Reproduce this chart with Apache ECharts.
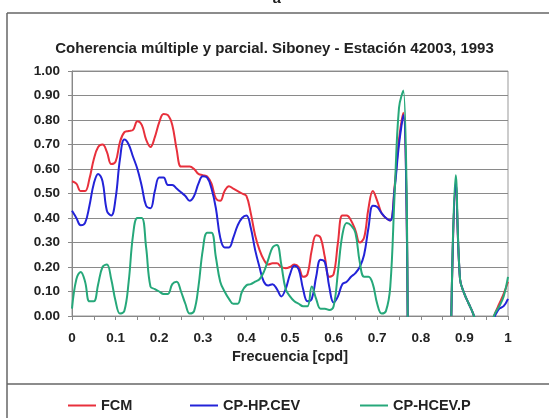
<!DOCTYPE html>
<html>
<head>
<meta charset="utf-8">
<script src="https://cdn.jsdelivr.net/npm/echarts@6/dist/echarts.min.js"></script>
<style>
html,body{margin:0;padding:0;background:#fff;}
#c{width:549px;height:418px;}
</style>
</head>
<body>
<div id="c"></div>
<script>
const freq = [0.00,0.01,0.02,0.03,0.04,0.05,0.06,0.07,0.08,0.09,
  0.10,0.11,0.12,0.13,0.14,0.15,0.16,0.17,0.18,0.19,
  0.20,0.21,0.22,0.23,0.24,0.25,0.26,0.27,0.28,0.29,
  0.30,0.31,0.32,0.33,0.34,0.35,0.36,0.37,0.38,0.39,
  0.40,0.41,0.42,0.43,0.44,0.45,0.46,0.47,0.48,0.49,
  0.50,0.51,0.52,0.53,0.54,0.55,0.56,0.57,0.58,0.59,
  0.60,0.61,0.62,0.63,0.64,0.65,0.66,0.67,0.68,0.69,
  0.70,0.71,0.72,0.73,0.74,0.75,0.76,0.77,0.78,0.79,
  0.80,0.81,0.82,0.83,0.84,0.85,0.86,0.87,0.88,0.89,
  0.90,0.91,0.92,0.93,0.94,0.95,0.96,0.97,0.98,0.99,1.00];

const xTickLabels = ['0','0.1','0.2','0.3','0.4','0.5','0.6','0.7','0.8','0.9','1'];

const fcm = [0.55,0.54,0.51,0.51,0.56,0.64,0.69,0.70,0.67,0.62,
  0.63,0.71,0.75,0.755,0.76,0.795,0.78,0.72,0.69,0.73,
  0.79,0.825,0.82,0.78,0.68,0.61,0.61,0.61,0.60,0.58,
  0.575,0.57,0.54,0.48,0.47,0.51,0.53,0.52,0.51,0.50,
  0.49,0.42,0.33,0.27,0.23,0.21,0.215,0.215,0.20,0.195,
  0.20,0.21,0.20,0.16,0.17,0.27,0.33,0.32,0.24,0.16,
  0.17,0.30,0.41,0.41,0.39,0.35,0.30,0.32,0.44,0.51,
  0.47,0.42,0.40,0.39,0.53,0.72,0.83,-0.02,null,null,
  null,null,null,null,null,null,null,0.0,0.54,0.15,
  0.09,0.05,0.01,-0.05,null,null,-0.04,0.01,0.05,0.09,0.14];

const cpHpCev = [0.43,0.40,0.37,0.38,0.45,0.54,0.58,0.55,0.43,0.41,
  0.48,0.64,0.72,0.70,0.65,0.60,0.53,0.45,0.44,0.51,
  0.565,0.565,0.535,0.535,0.52,0.505,0.49,0.47,0.49,0.54,
  0.57,0.565,0.52,0.44,0.32,0.28,0.28,0.32,0.37,0.40,
  0.41,0.36,0.27,0.20,0.14,0.125,0.13,0.11,0.08,0.11,
  0.17,0.205,0.19,0.11,0.06,0.07,0.16,0.23,0.22,0.12,
  0.055,0.08,0.13,0.14,0.16,0.175,0.20,0.25,0.36,0.45,
  0.445,0.42,0.40,0.39,0.52,0.70,0.82,-0.02,null,null,
  null,null,null,null,null,null,null,0.0,0.54,0.15,
  0.09,0.05,0.01,-0.05,null,null,-0.04,0.0,0.03,0.04,0.07];

const cpHcevP = [0.03,0.15,0.18,0.14,0.06,0.06,0.13,0.20,0.21,0.15,
  0.06,0.01,0.02,0.14,0.33,0.40,0.40,0.28,0.12,0.11,
  0.10,0.09,0.09,0.13,0.14,0.10,0.05,0.01,0.02,0.12,
  0.27,0.34,0.34,0.24,0.14,0.10,0.07,0.05,0.05,0.10,
  0.125,0.13,0.14,0.15,0.18,0.23,0.28,0.29,0.21,0.11,
  0.08,0.06,0.05,0.04,0.04,0.12,0.07,0.03,0.03,0.025,
  0.04,0.18,0.33,0.38,0.37,0.34,0.22,0.16,0.16,0.13,
  0.05,0.01,0.02,0.12,0.50,0.85,0.92,-0.02,null,null,
  null,null,null,null,null,null,null,0.0,0.575,0.15,
  0.09,0.05,0.01,-0.05,null,null,-0.04,0.01,0.04,0.08,0.16];

const seriesNames = ['FCM','CP-HP.CEV','CP-HCEV.P'];
const seriesColors = ['#e8303c','#2323d8','#26a87a'];
const seriesData = [fcm, cpHpCev, cpHcevP];

const chart = echarts.init(document.getElementById('c'), null, {renderer:'canvas'});
const font = 'Liberation Sans, Arial, sans-serif';

const legends = [63, 185, 355].map((x, i) => ({
  left: x, top: 393, data: [seriesNames[i]],
  icon: 'rect', itemWidth: 28, itemHeight: 2, itemGap: 5,
  textStyle: {fontFamily: font, fontWeight: 'bold', fontSize: 14.5, color: '#222'}
}));

chart.setOption({
  backgroundColor: '#fff',
  animation: false,
  title: {
    text: 'Coherencia múltiple y parcial. Siboney - Estación 42003, 1993',
    left: 'center', top: 36,
    textStyle: {fontFamily: font, fontWeight: 'bold', fontSize: 15, color: '#222'}
  },
  legend: legends,
  grid: {left: 72, right: 41, top: 71, bottom: 102, show: true, borderColor: '#999', borderWidth: 1},
  xAxis: {
    type: 'category', data: freq, boundaryGap: false,
    name: 'Frecuencia [cpd]', nameLocation: 'middle', nameGap: 33,
    nameTextStyle: {fontFamily: font, fontWeight: 'bold', fontSize: 14.5, color: '#222'},
    axisLine: {lineStyle: {color: '#888', width: 1}},
    axisTick: {interval: 4, length: 4, lineStyle: {color: '#888'}},
    axisLabel: {interval: 9, margin: 15, fontFamily: font, fontWeight: 'bold', fontSize: 13.5, color: '#222',
      formatter: (v, i) => (i % 10 === 0 ? xTickLabels[i / 10] : '')},
    splitLine: {show: false}
  },
  yAxis: {
    type: 'value', min: 0, max: 1, interval: 0.1,
    axisLine: {show: true, lineStyle: {color: '#888', width: 1}},
    axisTick: {show: true, length: 4, lineStyle: {color: '#888'}},
    axisLabel: {margin: 12, fontFamily: font, fontWeight: 'bold', fontSize: 13.5, color: '#222',
      formatter: v => v.toFixed(2)},
    splitLine: {lineStyle: {color: '#8a8a8a', width: 1}}
  },
  graphic: [
    {type: 'line', shape: {x1: 7, y1: 13, x2: 7, y2: 418}, style: {stroke: '#666', lineWidth: 1.5}},
    {type: 'line', shape: {x1: 7, y1: 13, x2: 549, y2: 13}, style: {stroke: '#666', lineWidth: 1.5}},
    {type: 'line', shape: {x1: 7, y1: 384, x2: 549, y2: 384}, style: {stroke: '#666', lineWidth: 1.5}},
    {type: 'text', left: 273, top: -9, style: {text: 'a', font: 'italic bold 15px ' + font, fill: '#222'}}
  ],
  series: seriesData.map((d, i) => ({
    name: seriesNames[i], type: 'line', data: d,
    showSymbol: false, symbol: 'none', smooth: 0.4,
    connectNulls: false, clip: true,
    lineStyle: {color: seriesColors[i], width: 2},
    itemStyle: {color: seriesColors[i]}
  }))
});
</script>
</body>
</html>
